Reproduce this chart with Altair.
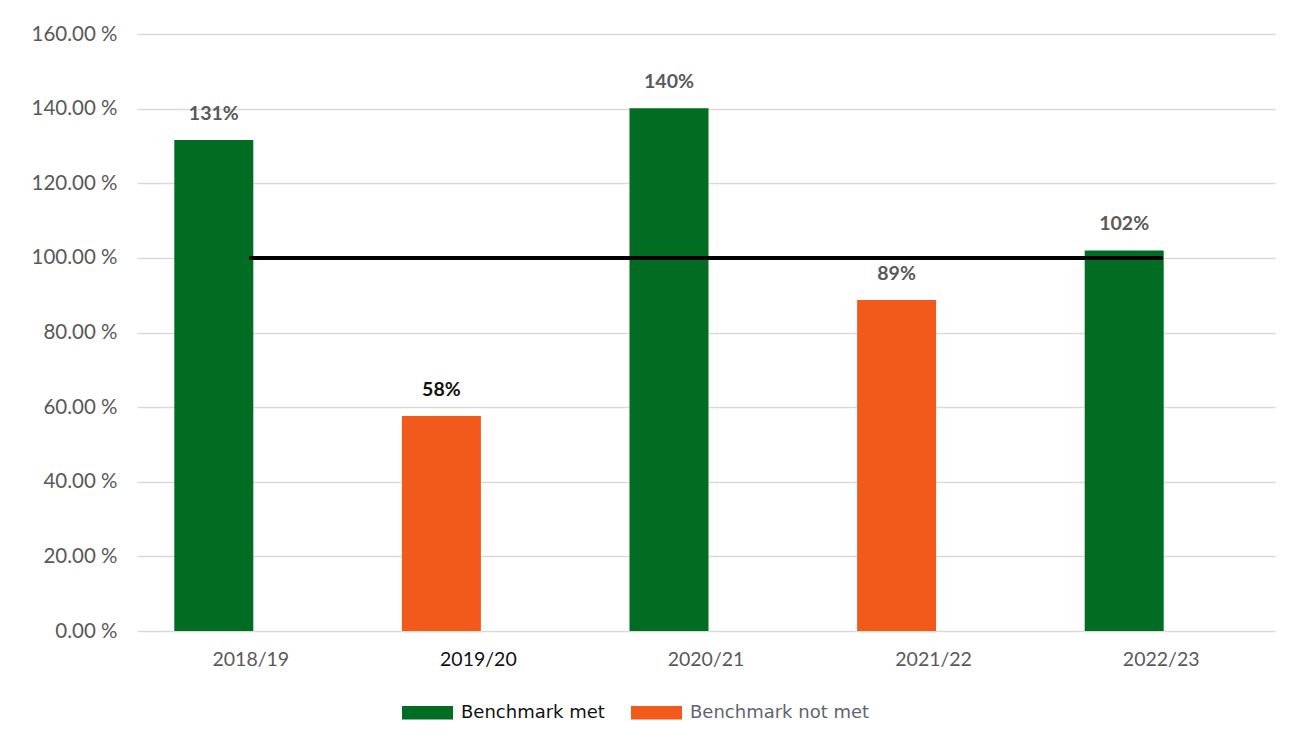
import altair as alt
import pandas as pd

years = ["2018/19", "2019/20", "2020/21", "2021/22", "2022/23"]
values = [131.6, 57.6, 140.1, 88.7, 102.0]
value_labels = ["131%", "58%", "140%", "89%", "102%"]
status = ["Benchmark met", "Benchmark not met", "Benchmark met", "Benchmark not met", "Benchmark met"]
benchmark = [100, 100, 100, 100, 100]
y_ticks = [0, 20, 40, 60, 80, 100, 120, 140, 160]

df = pd.DataFrame({
    "year": years,
    "value": values,
    "label": value_labels,
    "status": status,
    "benchmark": benchmark,
})

GREEN = "#016D22"
ORANGE = "#F25A1B"
GREY = "#595959"

x = alt.X(
    "year:N",
    sort=years,
    scale=alt.Scale(paddingInner=0, paddingOuter=0),
    axis=alt.Axis(
        title=None,
        domain=False,
        ticks=False,
        labelAngle=0,
        labelFont="Lato",
        labelFontSize=19.5,
        labelPadding=19,
        labelColor=alt.condition("datum.value == '2019/20'", alt.value("#111111"), alt.value(GREY)),
    ),
)

y_scale = alt.Scale(domain=[0, 160], nice=False)

bars = alt.Chart(df).mark_bar(width=79, xOffset=-37).encode(
    x=x,
    y=alt.Y(
        "value:Q",
        scale=y_scale,
        axis=alt.Axis(
            title=None,
            values=y_ticks,
            domain=False,
            ticks=False,
            labelExpr="format(datum.value, '.2f') + ' %'",
            labelFont="Lato",
            labelFontSize=20.5,
            labelColor=GREY,
            labelPadding=20,
            gridColor="#DADADA",
            gridWidth=1.5,
        ),
    ),
    color=alt.Color(
        "status:N",
        scale=alt.Scale(domain=["Benchmark met", "Benchmark not met"], range=[GREEN, ORANGE]),
        legend=alt.Legend(
            title=None,
            orient="none",
            legendX=265,
            legendY=653,
            direction="horizontal",
            symbolType="M-1,-0.26H1V0.26H-1Z",
            symbolSize=2601,
            symbolStrokeWidth=0,
            symbolOpacity=1,
            labelFont="DejaVu Sans",
            labelFontSize=18,
            labelColor=alt.ExprRef("datum.label == 'Benchmark met' ? '#111111' : '#5f6470'"),
            labelLimit=400,
            columnPadding=26,
            labelOffset=8,
            padding=0,
        ),
    ),
)

texts = alt.Chart(df).mark_text(
    font="Lato", fontSize=19.5, fontWeight="bold", baseline="bottom", dx=-37, dy=-16
).encode(
    x=alt.X("year:N", sort=years),
    y=alt.Y("value:Q", scale=y_scale),
    text="label:N",
    color=alt.condition("datum.year == '2019/20'", alt.value("#111111"), alt.value(GREY)),
)

line = alt.Chart(df).mark_line(color="#000000", strokeWidth=4, strokeCap="round").encode(
    x=alt.X("year:N", sort=years),
    y=alt.Y("benchmark:Q", scale=y_scale),
)

chart = (
    alt.layer(bars, line, texts)
    .properties(
        width=1138,
        height=597,
        autosize=alt.AutoSizeParams(type="none"),
        padding={"left": 137, "top": 34, "right": 29, "bottom": 120},
        background="#FFFFFF",
    )
    .configure_view(stroke=None)
)

chart.save("out.html", embed_options={"renderer": "svg", "actions": False})
